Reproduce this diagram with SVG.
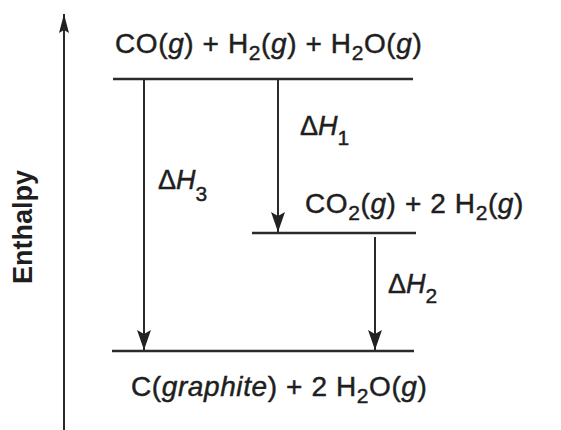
<svg xmlns="http://www.w3.org/2000/svg" width="561" height="430" viewBox="0 0 561 430">
  <style>
    text { font-family: "Liberation Sans", Arial, sans-serif; fill: #1e1e1e; stroke: #1e1e1e; stroke-width: 0.45; }
    .t { font-size: 28px; letter-spacing: 0.6px; }
    .s { font-size: 21px; }
    .d { font-size: 27px; }
    .ds { font-size: 21px; }
    .i { font-style: italic; }
    .lvl { stroke: #2a2a2a; stroke-width: 2.6; fill: none; }
    .arr { stroke: #2a2a2a; stroke-width: 2; fill: none; marker-end: url(#ah); }
    .ax { stroke: #2a2a2a; stroke-width: 2; fill: none; marker-end: url(#axh); }
  </style>
  <defs>
    <marker id="ah" viewBox="0 -7 20 14" refX="20" refY="0" markerWidth="20" markerHeight="14" markerUnits="userSpaceOnUse" orient="auto">
      <path d="M0,-7 L20,0 L0,7 L4,0 z" fill="#222"/>
    </marker>
    <marker id="axh" viewBox="0 -5 19 10" refX="19" refY="0" markerWidth="19" markerHeight="10" markerUnits="userSpaceOnUse" orient="auto">
      <path d="M0,-5 L19,0 L0,5 L3,0 z" fill="#222"/>
    </marker>
  </defs>
  <rect width="561" height="430" fill="#fff"/>

  <g id="axis">
    <line class="ax" x1="64" y1="430" x2="64" y2="14"/>
    <text transform="translate(32,227) rotate(-90)" text-anchor="middle" style="font-size:27px;font-weight:bold;stroke-width:0">Enthalpy</text>
  </g>

  <g id="level-reactants">
    <line class="lvl" x1="113" y1="79" x2="413" y2="79"/>
    <text class="t" x="115" y="53">CO(<tspan class="i">g</tspan>) + H<tspan class="s" dy="7">2</tspan><tspan dy="-7">(</tspan><tspan class="i">g</tspan>) + H<tspan class="s" dy="7">2</tspan><tspan dy="-7">O(</tspan><tspan class="i">g</tspan>)</text>
  </g>

  <g id="level-intermediate">
    <line class="lvl" x1="252" y1="233" x2="416" y2="233"/>
    <text class="t" x="305" y="213">CO<tspan class="s" dy="7">2</tspan><tspan dy="-7">(</tspan><tspan class="i">g</tspan>) + 2 H<tspan class="s" dy="7">2</tspan><tspan dy="-7">(</tspan><tspan class="i">g</tspan>)</text>
  </g>

  <g id="level-products">
    <line class="lvl" x1="112" y1="351" x2="414" y2="351"/>
    <text class="t" x="131" y="396">C(<tspan class="i">graphite</tspan>) + 2 H<tspan class="s" dy="7">2</tspan><tspan dy="-7">O(</tspan><tspan class="i">g</tspan>)</text>
  </g>

  <g id="connectors">
    <g id="dH1">
      <line class="arr" x1="278" y1="80" x2="278" y2="232"/>
      <text class="d" x="300" y="135">Δ<tspan class="i">H</tspan><tspan class="ds" dy="10">1</tspan></text>
    </g>
    <g id="dH3">
      <line class="arr" x1="144" y1="80" x2="144" y2="350"/>
      <text class="d" x="158" y="189">Δ<tspan class="i">H</tspan><tspan class="ds" dy="12">3</tspan></text>
    </g>
    <g id="dH2">
      <line class="arr" x1="375" y1="237" x2="375" y2="350"/>
      <text class="d" x="388" y="293">Δ<tspan class="i">H</tspan><tspan class="ds" dy="10">2</tspan></text>
    </g>
  </g>
</svg>
